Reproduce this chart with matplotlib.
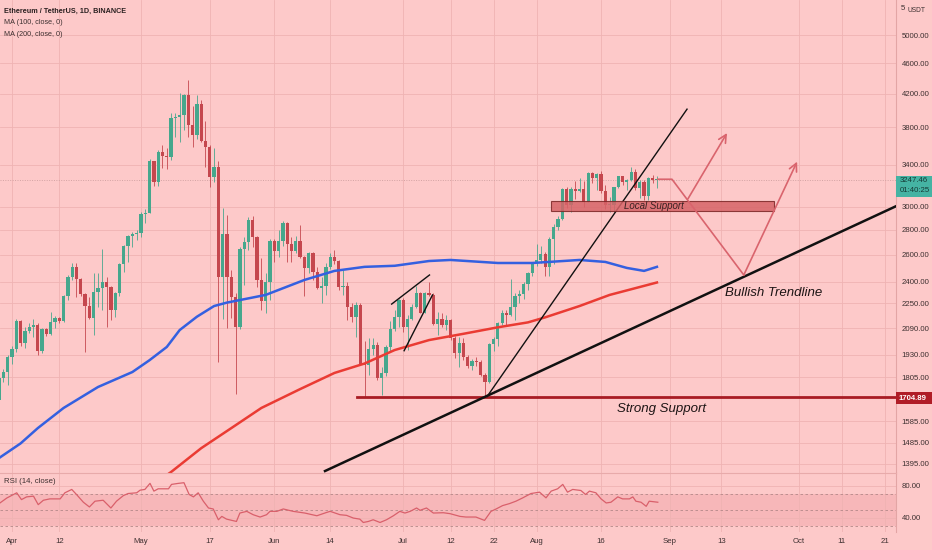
import numpy as np
import pandas as pd
import matplotlib
matplotlib.use("Agg")
import matplotlib.pyplot as plt
from matplotlib.patches import Rectangle
from matplotlib.ticker import NullLocator

start = pd.Timestamp("2021-03-29")

# daily candles Mar 29 -> Aug 29 2021
opens = [1690, 1800, 1836, 1919, 1962, 2137, 2001, 2074, 2100, 2107, 1954, 2082, 2055, 2126, 2152, 2132,
         2300, 2436, 2510, 2417, 2313, 2232, 2152, 2329, 2353, 2395, 2360, 2206, 2318, 2530, 2668, 2750,
         2766, 2775, 2935, 2947, 3436, 3231, 3533, 3490, 3480, 3903, 3920, 3935, 4180, 3830, 3715, 4068,
         3650, 3580, 3280, 3378, 2431, 2768, 2436, 2291, 2095, 2643, 2700, 2883, 2740, 2412, 2268, 2394,
         2712, 2630, 2705, 2855, 2685, 2630, 2712, 2586, 2497, 2611, 2471, 2353, 2370, 2510, 2586, 2550,
         2365, 2372, 2227, 2158, 2238, 1881, 1872, 1962, 1990, 1800, 1830, 1978, 2082, 2160, 2272, 2095,
         2150, 2227, 2318, 2189, 2318, 2305, 2115, 2146, 2110, 2140, 2027, 1942, 1997, 1919, 1867, 1897,
         1892, 1818, 1782, 1993, 2025, 2120, 2189, 2175, 2227, 2300, 2315, 2380, 2465, 2535, 2557, 2607,
         2508, 2725, 2827, 2890, 3158, 3013, 3163, 3142, 3164, 3046, 3318, 3265, 3306, 3147, 3011, 3018,
         3178, 3287, 3225, 3244, 3324, 3173, 3224, 3100, 3270, 3244]
highs = [1820, 1852, 1929, 1980, 2146, 2141, 2095, 2120, 2146, 2120, 2088, 2088, 2195, 2167, 2158, 2307,
         2449, 2535, 2539, 2425, 2320, 2295, 2465, 2465, 2643, 2436, 2370, 2325, 2535, 2675, 2760, 2785,
         2799, 2955, 2979, 3457, 3440, 3551, 3604, 3574, 3960, 3960, 4210, 4190, 4373, 4044, 4180, 4121,
         3874, 3600, 3574, 3438, 2985, 2927, 2485, 2318, 2663, 2745, 2910, 2916, 2750, 2573, 2465, 2722,
         2722, 2799, 2877, 2865, 2745, 2750, 2841, 2590, 2624, 2624, 2504, 2436, 2539, 2611, 2637, 2560,
         2485, 2395, 2250, 2261, 2250, 2010, 2027, 2027, 2005, 1864, 1990, 2137, 2208, 2282, 2283, 2173,
         2245, 2370, 2330, 2329, 2400, 2320, 2195, 2185, 2173, 2146, 2040, 2037, 2027, 1929, 1904, 1919,
         1900, 1830, 2001, 2035, 2130, 2206, 2206, 2417, 2318, 2340, 2395, 2470, 2545, 2688, 2665, 2620,
         2740, 2845, 2920, 3170, 3185, 3180, 3240, 3270, 3240, 3330, 3330, 3320, 3335, 3200, 3090, 3185,
         3290, 3290, 3260, 3375, 3355, 3250, 3250, 3280, 3300, 3290]
lows = [1670, 1782, 1764, 1881, 1948, 1980, 1968, 2060, 2037, 1930, 1942, 2041, 2048, 2088, 2120, 2126,
        2272, 2412, 2295, 2300, 1946, 2146, 2048, 2227, 2206, 2095, 2141, 2162, 2300, 2473, 2547, 2663,
        2717, 2745, 2855, 2940, 3190, 3190, 3362, 3352, 3446, 3690, 3640, 3769, 3690, 3583, 3672, 3640,
        3380, 3185, 3230, 1890, 2146, 2088, 2152, 1720, 2082, 2375, 2637, 2663, 2365, 2206, 2185, 2272,
        2547, 2586, 2668, 2547, 2547, 2611, 2573, 2300, 2460, 2412, 2346, 2250, 2307, 2490, 2530, 2341,
        2307, 2141, 2130, 2037, 1872, 1705, 1818, 1929, 1791, 1712, 1810, 1950, 2070, 2100, 2068, 1958,
        2140, 2217, 2185, 2185, 2300, 2108, 2048, 2095, 2078, 2020, 1910, 1864, 1900, 1854, 1845, 1867,
        1810, 1706, 1773, 1950, 1980, 2110, 2108, 2167, 2141, 2250, 2280, 2341, 2440, 2515, 2540, 2441,
        2441, 2530, 2800, 2880, 2985, 2950, 3070, 3130, 3000, 3040, 3220, 3150, 3120, 2980, 2950, 2950,
        3170, 3200, 3150, 3240, 3150, 3080, 3060, 3060, 3220, 3170]
closes = [1800, 1836, 1919, 1962, 2137, 2001, 2074, 2100, 2107, 1954, 2082, 2055, 2126, 2152, 2132, 2300,
          2436, 2510, 2417, 2313, 2232, 2152, 2329, 2353, 2395, 2360, 2206, 2318, 2530, 2668, 2750, 2766,
          2775, 2935, 2947, 3436, 3231, 3533, 3490, 3480, 3903, 3920, 3935, 4180, 3830, 3715, 4068, 3650,
          3580, 3280, 3378, 2431, 2768, 2436, 2291, 2095, 2643, 2700, 2883, 2740, 2412, 2268, 2394, 2712,
          2630, 2705, 2855, 2685, 2630, 2712, 2586, 2497, 2611, 2471, 2353, 2370, 2510, 2586, 2550, 2365,
          2372, 2227, 2158, 2238, 1881, 1872, 1962, 1990, 1800, 1830, 1978, 2082, 2160, 2272, 2095, 2150,
          2227, 2318, 2189, 2318, 2305, 2115, 2146, 2110, 2140, 2027, 1942, 1997, 1919, 1867, 1897, 1892,
          1818, 1782, 1993, 2025, 2120, 2189, 2175, 2227, 2300, 2315, 2380, 2465, 2535, 2557, 2607, 2508,
          2725, 2827, 2890, 3158, 3013, 3163, 3142, 3164, 3046, 3318, 3265, 3306, 3147, 3011, 3018, 3178,
          3287, 3225, 3244, 3324, 3173, 3224, 3100, 3270, 3244, 3247.46]

# moving averages (day offset from Mar 29, value)
ma100_day = [0, 5, 9, 15, 23, 31, 35, 39, 42, 46, 50, 53, 56, 62, 71, 78, 85, 92, 100, 105, 116, 124,
             135, 141, 146, 150, 153]
ma100_val = [1420, 1483, 1552, 1648, 1754, 1834, 1900, 1976, 2078, 2162, 2232, 2255, 2272, 2307, 2412,
             2478, 2508, 2516, 2552, 2560, 2537, 2537, 2560, 2545, 2500, 2478, 2508]
ma200_day = [37, 40, 47, 54, 61, 70, 78, 85, 92, 100, 108, 116, 123, 127, 135, 142, 153]
ma200_val = [1326, 1362, 1462, 1552, 1648, 1743, 1829, 1881, 1958, 2017, 2055, 2095, 2126, 2158, 2232,
             2307, 2394]

# RSI(14)
rsi_day = [0.2, 1.8, 4.1, 5.2, 6.4, 8.0, 9.1, 10.3, 11.8, 14.2, 15.3, 16.9, 18.0, 19.6, 21.0, 22.3, 24.2,
           26.0, 27.3, 28.9, 30.0, 32.0, 32.8, 33.9, 35.1, 36.0, 37.0, 39.4, 40.1, 41.7, 43.0, 44.2, 45.2,
           46.3, 47.5, 48.7, 49.8, 51.0, 51.8, 52.9, 55.2, 56.0, 57.6, 59.1, 60.7, 62.2, 63.0, 64.6, 66.1,
           68.4, 71.1, 73.9, 76.2, 77.0, 79.3, 80.8, 82.4, 83.9, 84.7, 85.9, 87.0, 88.6, 90.1, 91.7, 93.2,
           94.4, 95.6, 97.1, 97.9, 99.4, 101.0, 103.3, 104.9, 107.2, 108.6, 110.9, 112.9, 114.4, 115.6,
           117.1, 118.7, 120.2, 121.8, 123.7, 125.7, 127.2, 128.4, 129.9, 131.1, 132.2, 133.4, 135.3, 136.4,
           137.3, 138.8, 140.0, 141.2, 142.3, 143.9, 145.0, 146.6, 147.4, 148.1, 149.3, 150.5, 151.2, 153.2]
rsi_val = [58.8, 65.0, 71.5, 63.0, 66.4, 67.3, 56.7, 62.2, 63.9, 63.9, 71.5, 75.7, 69.4, 59.7, 53.8, 61.0,
           62.2, 52.5, 61.0, 68.0, 70.6, 71.5, 74.8, 75.7, 83.3, 73.6, 76.5, 76.5, 82.0, 83.3, 84.1, 69.4,
           66.4, 71.5, 61.0, 52.5, 51.3, 37.8, 42.0, 38.6, 35.7, 46.2, 48.3, 44.1, 41.2, 44.1, 48.3, 48.3,
           51.3, 48.3, 46.2, 42.8, 47.0, 48.3, 44.1, 43.3, 39.9, 38.6, 34.4, 35.7, 37.8, 34.4, 37.8, 42.8,
           48.3, 46.2, 48.3, 52.5, 49.6, 52.5, 46.2, 46.6, 45.4, 42.0, 41.2, 41.2, 37.0, 48.3, 51.3, 55.5,
           58.0, 61.0, 65.2, 70.6, 72.3, 65.2, 73.6, 76.5, 82.0, 72.3, 75.7, 74.4, 69.4, 73.6, 71.5, 63.9,
           58.8, 59.7, 66.4, 63.9, 63.9, 66.4, 61.0, 59.7, 54.6, 61.0, 59.7]

price_ticks = [5000, 4600, 4200, 3800, 3400, 3000, 2800, 2600, 2400, 2250, 2090, 1930, 1805, 1585, 1485, 1395]
date_ticks = ["2021-04-01", "2021-04-12", "2021-05-01", "2021-05-17", "2021-06-01", "2021-06-14",
              "2021-07-01", "2021-07-12", "2021-07-22", "2021-08-01", "2021-08-16", "2021-09-01",
              "2021-09-13", "2021-10-01", "2021-10-11", "2021-10-21"]
date_labels = ["Apr", "12", "May", "17", "Jun", "14", "Jul", "12", "22", "Aug", "16", "Sep", "13", "Oct",
               "11", "21"]

strong_support = 1704.89
# drawings (day offset, price)
trend_big = [(75.8, 1366), (208.6, 3004)]
trend_steep = [(113.5, 1705), (160.0, 4010)]
flag_upper = [(91.3, 2245), (100.1, 2448)]
flag_lower = [(94.2, 1954), (100.8, 2307)]
local_box = (128.3, 180.2, 2960, 3053)
proj_path = [(153.2, 3255), (156.5, 3255), (173.2, 2448)]
proj_arrow1 = [(160.2, 3070), (169.3, 3735)]
proj_arrow2 = [(173.2, 2448), (185.6, 3430)]

BG = "#fdc9c9"
GRID = "#efb3b3"
TXT = "#3d3030"
UP = "#46a78d"
DN = "#c5474e"
plt.rcParams["font.family"] = ["Liberation Sans", "DejaVu Sans"]
FS = 5.6

def day(s):
    return (pd.Timestamp(s) - start).days

W, H = 932, 550
fig = plt.figure(figsize=(W / 100, H / 100), dpi=100, facecolor=BG)
ax = fig.add_axes([0, 77 / H, 896 / W, 473 / H], facecolor=BG)
rx = fig.add_axes([0, 18 / H, 896 / W, 59 / H], facecolor=BG, sharex=ax)

xt = [day(d) for d in date_ticks]
ax.set_yscale("log")
ax.set_ylim(1358, 5549)
ax.set_xlim(0.21, 208.6)
ax.yaxis.set_minor_locator(NullLocator())
ax.set_yticks(price_ticks)
ax.set_yticklabels([f"{p:.2f}" for p in price_ticks])
ax.yaxis.tick_right()
ax.tick_params(axis="y", length=0, pad=4, labelsize=FS, colors=TXT)
ax.set_xticks(xt)
ax.tick_params(axis="x", length=0, labelbottom=False)
ax.grid(True, color=GRID, lw=0.6, zorder=0)
for s in ["top", "left", "bottom"]:
    ax.spines[s].set_visible(False)
ax.spines["right"].set_color("#e3a5a5")

# candles
o = np.array(opens, float)
c = np.array(closes, float)
idx = np.arange(len(c))
col = np.where(c >= o, UP, DN)
ax.vlines(idx, lows, highs, colors=col, lw=0.7, alpha=0.85, zorder=3)
bot = np.minimum(o, c)
hgt = np.maximum(np.abs(c - o), bot * 0.003)
ax.bar(idx, hgt, bottom=bot, width=0.76, color=col, lw=0, zorder=4)

# moving averages
ax.plot(ma100_day, ma100_val, color="#3460e0", lw=1.8, zorder=5, solid_joinstyle="round")
ax.plot(ma200_day, ma200_val, color="#ea3b33", lw=1.8, zorder=5, solid_joinstyle="round")

# price line
ax.axhline(closes[-1], color="#d2a3a3", lw=0.7, ls=(0, (1, 1.5)), zorder=2)

# drawings
ax.plot([83.2, 208.6], [strong_support] * 2, color="#a81c24", lw=2.0, zorder=6)
ax.plot(*zip(*trend_big), color="#111111", lw=1.8, zorder=6)
ax.plot(*zip(*trend_steep), color="#111111", lw=1.0, zorder=6)
ax.plot(*zip(*flag_upper), color="#111111", lw=1.0, zorder=6)
ax.plot(*zip(*flag_lower), color="#111111", lw=1.0, zorder=6)
x0, x1, y0, y1 = local_box
ax.add_patch(Rectangle((x0, y0), x1 - x0, y1 - y0, facecolor="#d76468", alpha=0.85,
                       edgecolor="#7a2525", lw=0.8, zorder=6))
ax.text(152.3, 3006, "Local Support", ha="center", va="center", fontsize=7, style="italic",
        color="#3a2222", zorder=7)
PC = "#d9646d"
ax.plot(*zip(*proj_path), color=PC, lw=1.2, zorder=6)
for seg in (proj_arrow1, proj_arrow2):
    ax.annotate("", xy=seg[1], xytext=seg[0],
                arrowprops=dict(arrowstyle="->", color=PC, lw=1.2, mutation_scale=14,
                                shrinkA=0, shrinkB=0), zorder=6)
ax.text(168.8, 2322, "Bullish Trendline", ha="left", va="center", fontsize=9.5, style="italic",
        color="#1c1414", zorder=7)
ax.text(143.7, 1642, "Strong Support", ha="left", va="center", fontsize=9.5, style="italic",
        color="#1c1414", zorder=7)

# RSI pane
rx.set_ylim(22.5, 96.25)
rx.axhspan(30, 70, color="#f5b0b3", alpha=0.7, lw=0, zorder=1)
for lv in (30, 50, 70):
    rx.axhline(lv, color="#b48888", lw=0.6, ls=(0, (3, 3)), zorder=2)
rx.plot(rsi_day, rsi_val, color="#d9606b", lw=0.9, zorder=4)
rx.set_yticks([40, 80])
rx.set_yticklabels(["40.00", "80.00"])
rx.yaxis.set_minor_locator(NullLocator())
rx.yaxis.tick_right()
rx.tick_params(axis="y", length=0, pad=4, labelsize=FS, colors=TXT)
rx.set_xticks(xt)
rx.set_xticklabels(date_labels)
rx.tick_params(axis="x", length=0, pad=4, labelsize=FS, colors=TXT)
rx.grid(True, color=GRID, lw=0.6, zorder=0)
for s in ["left", "bottom"]:
    rx.spines[s].set_visible(False)
rx.spines["right"].set_color("#e3a5a5")
rx.spines["top"].set_color("#e8aaaa")
rx.text(0.004, 0.86, "RSI (14, close)", transform=rx.transAxes, fontsize=FS, color=TXT, va="center")

# legend texts
fig.text(4 / W, 1 - 11 / H, "Ethereum / TetherUS, 1D, BINANCE", fontsize=5.2, color="#2a2020",
         weight="bold", va="center")
fig.text(4 / W, 1 - 23 / H, "MA (100, close, 0)", fontsize=5.2, color=TXT, va="center")
fig.text(4 / W, 1 - 34 / H, "MA (200, close, 0)", fontsize=5.2, color=TXT, va="center")
fig.text(901 / W, 1 - 9 / H, "5", fontsize=FS, color=TXT, va="center")
fig.text(907 / W, 1 - 10 / H, "USDT", fontsize=4.8, color=TXT, va="center")

# price markers on the axis
fig.patches.append(Rectangle((896 / W, 1 - 197 / H), 36 / W, 21 / H, transform=fig.transFigure,
                             facecolor="#45b3a3", lw=0))
fig.text(900 / W, 1 - 181 / H, f"{closes[-1]:.2f}", fontsize=FS, color="#173a36", va="center")
fig.text(900 / W, 1 - 191 / H, "01:40:25", fontsize=FS, color="#173a36", va="center")
fig.patches.append(Rectangle((896 / W, 1 - 404 / H), 36 / W, 12 / H, transform=fig.transFigure,
                             facecolor="#b01d27", lw=0))
fig.text(899 / W, 1 - 398 / H, f"{strong_support:.2f}", fontsize=FS, color="white", va="center",
         weight="bold")

fig.savefig("out.png", dpi=100, facecolor=BG)
